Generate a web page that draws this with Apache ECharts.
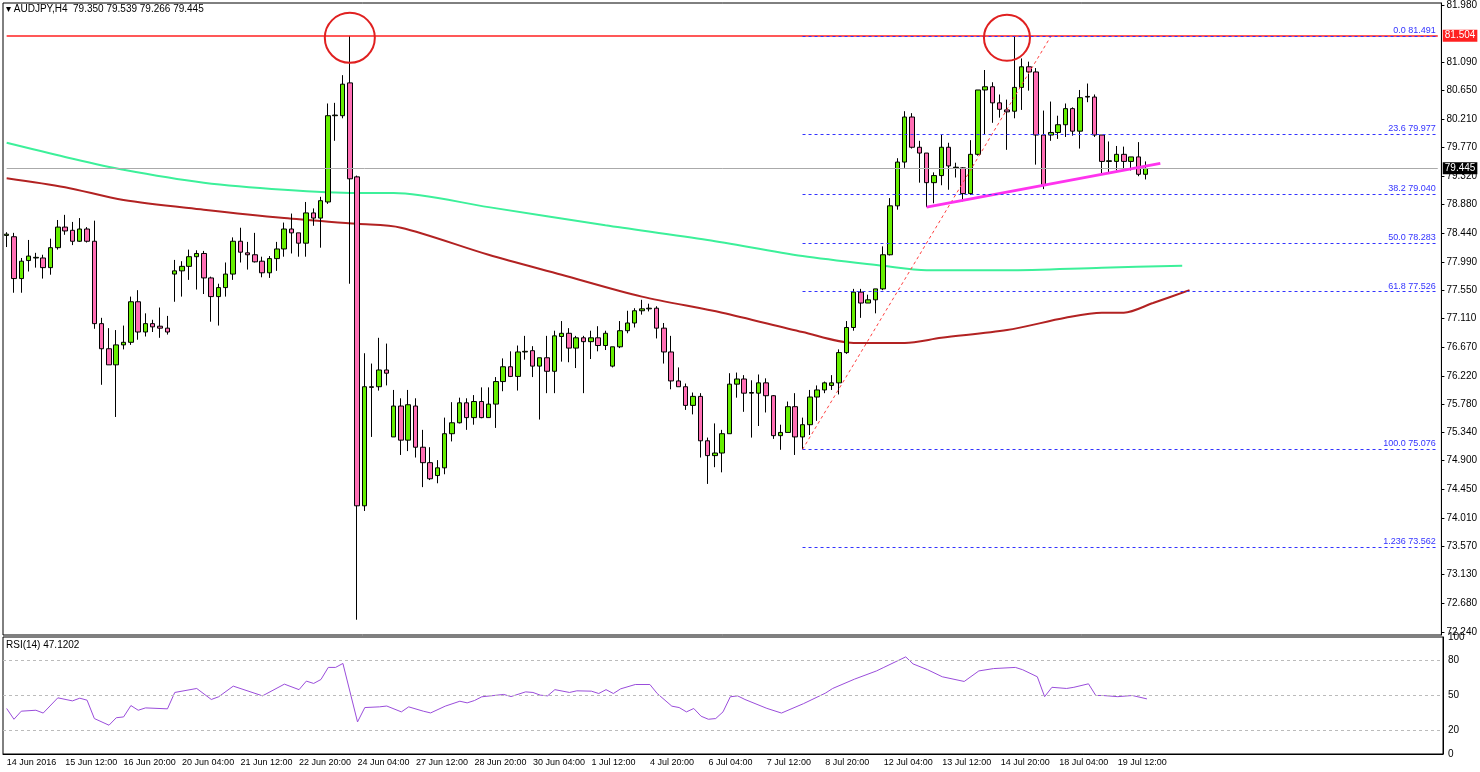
<!DOCTYPE html>
<html>
<head>
<meta charset="utf-8">
<script src="https://cdn.jsdelivr.net/npm/echarts@6/dist/echarts.min.js"></script>
<style>
  html, body { margin: 0; padding: 0; background: #fff; }
  #chart { width: 1480px; height: 772px; }
</style>
</head>
<body>
<div id="chart"></div>
<script>
// AUDJPY H4 candles, [open, close, low, high]
var candles = [
  [78.40,78.42,78.22,78.45],[78.38,77.73,77.51,78.44],[77.73,78.00,77.51,78.05],[78.01,78.08,77.84,78.33],
  [78.05,78.06,77.90,78.13],[78.05,77.90,77.73,78.10],[77.90,78.21,77.79,78.35],[78.21,78.53,78.18,78.64],
  [78.53,78.47,78.41,78.72],[78.48,78.31,78.25,78.61],[78.31,78.50,78.30,78.67],[78.50,78.31,78.29,78.53],
  [78.31,77.03,76.95,78.63],[77.03,76.64,76.08,77.12],[76.64,76.39,76.39,76.96],[76.39,76.70,75.58,76.93],
  [76.70,76.74,76.63,77.00],[76.74,77.37,76.70,77.45],[77.37,76.90,76.78,77.55],[76.90,77.03,76.83,77.19],
  [77.03,76.98,76.90,77.09],[76.99,76.96,76.81,77.28],[76.96,76.90,76.86,77.15],[77.80,77.85,77.37,78.02],
  [77.85,77.92,77.45,78.00],[77.92,78.07,77.71,78.18],[78.07,78.12,77.56,78.17],[78.12,77.74,77.49,78.16],
  [77.74,77.45,77.06,77.76],[77.45,77.59,77.00,77.65],[77.59,77.80,77.45,77.98],[77.80,78.31,77.71,78.37],
  [78.31,78.14,77.98,78.52],[78.13,78.10,77.87,78.30],[78.10,77.99,77.98,78.44],[78.00,77.82,77.75,78.07],
  [77.82,78.04,77.74,78.08],[78.04,78.19,77.85,78.30],[78.19,78.50,78.07,78.60],[78.50,78.44,78.12,78.74],
  [78.44,78.28,78.07,78.44],[78.28,78.75,78.07,78.92],[78.75,78.67,78.55,78.82],[78.67,78.94,78.21,79.00],
  [78.92,80.26,78.89,80.45],[80.26,80.27,79.87,80.46],[80.26,80.75,80.22,80.89],[80.77,79.28,77.65,81.50],
  [79.31,74.20,72.43,79.33],[74.20,76.05,74.12,76.57],[76.04,76.05,75.27,76.41],[76.05,76.31,75.99,76.81],
  [76.31,76.26,76.07,76.72],[75.27,75.75,75.27,76.00],[75.75,75.22,74.99,75.87],[75.22,75.77,75.05,76.00],
  [75.75,75.11,74.95,75.87],[75.11,74.87,74.49,75.38],[74.87,74.62,74.60,75.11],[74.67,74.79,74.55,74.91],
  [74.79,75.32,74.69,75.57],[75.32,75.49,75.20,75.81],[75.49,75.80,75.48,75.88],[75.80,75.57,75.38,75.87],
  [75.57,75.82,75.46,75.92],[75.82,75.57,75.56,76.04],[75.57,75.78,75.57,76.04],[75.78,76.13,75.41,76.20],
  [76.13,76.36,75.98,76.49],[76.36,76.21,76.20,76.60],[76.21,76.59,75.99,76.69],[76.59,76.60,76.47,76.84],
  [76.61,76.37,76.20,76.68],[76.37,76.50,75.54,76.50],[76.50,76.29,75.95,76.84],[76.29,76.84,75.95,76.92],
  [76.83,76.88,76.44,77.07],[76.88,76.65,76.43,76.96],[76.65,76.81,76.34,76.84],[76.81,76.75,75.95,76.84],
  [76.75,76.81,76.48,76.92],[76.81,76.69,76.60,76.99],[76.69,76.88,76.62,76.92],[76.37,76.67,76.35,76.67],
  [76.67,76.92,76.65,77.07],[76.92,77.04,76.88,77.23],[77.04,77.23,76.97,77.27],[77.23,77.26,77.17,77.40],
  [77.26,77.27,77.22,77.34],[77.27,76.96,76.80,77.30],[76.96,76.59,76.41,77.04],[76.59,76.14,76.01,76.84],
  [76.14,76.05,76.05,76.35],[76.05,75.76,75.69,76.10],[75.76,75.90,75.62,75.96],[75.90,75.21,74.95,75.95],
  [75.21,74.98,74.54,75.26],[74.98,75.02,74.80,75.48],[75.02,75.32,74.72,75.38],[75.32,76.09,75.32,76.26],
  [76.09,76.17,75.88,76.27],[76.17,75.95,75.66,76.23],[75.95,75.96,75.26,76.15],[75.95,76.11,75.44,76.24],
  [76.11,75.91,75.65,76.18],[75.91,75.29,75.24,75.92],[75.29,75.34,75.07,75.46],[75.34,75.74,75.34,75.82],
  [75.74,75.27,74.99,75.95],[75.27,75.46,75.08,75.57],[75.46,75.89,75.30,76.00],[75.89,76.00,75.52,76.07],
  [76.00,76.11,75.95,76.13],[76.07,76.11,76.00,76.23],[76.11,76.58,75.93,76.63],[76.58,76.97,76.56,77.07],
  [76.97,77.52,76.92,77.57],[77.52,77.35,77.12,77.57],[77.35,77.40,77.35,77.48],[77.40,77.57,77.19,77.57],
  [77.57,78.10,77.55,78.23],[78.10,78.86,78.09,78.98],[78.86,79.54,78.80,79.60],[79.54,80.24,79.45,80.33],
  [80.24,79.77,79.75,80.30],[79.77,79.68,79.22,79.87],[79.68,79.22,78.84,79.68],[79.22,79.33,78.90,79.38],
  [79.33,79.77,79.18,79.97],[79.77,79.48,79.11,79.84],[79.45,79.46,79.30,79.53],[79.45,79.05,78.93,79.46],
  [79.05,79.66,79.03,79.88],[79.66,80.66,79.64,80.66],[80.66,80.71,79.97,80.97],[80.71,80.46,80.15,80.78],
  [80.46,80.36,80.23,80.59],[80.35,80.32,79.73,80.51],[80.33,80.70,80.22,81.49],[80.70,81.02,80.35,81.15],
  [81.02,80.94,80.65,81.10],[80.94,79.96,79.50,81.00],[79.96,79.19,79.12,80.34],[79.96,80.00,79.87,80.48],
  [80.00,80.12,79.90,80.26],[80.12,80.37,79.93,80.45],[80.37,80.02,79.95,80.39],[80.02,80.54,79.75,80.66],
  [80.55,80.56,80.47,80.76],[80.55,79.96,79.93,80.59],[79.96,79.55,79.37,79.96],[79.55,79.56,79.37,79.86],
  [79.55,79.66,79.41,79.79],[79.66,79.55,79.41,79.78],[79.55,79.62,79.41,79.62],[79.62,79.35,79.32,79.85],
  [79.35,79.44,79.27,79.55]
];

// moving averages, [bar index, price]
var maGreen = [[0,79.84],[8,79.62],[16,79.42],[27,79.22],[38,79.11],[48,79.06],[53,79.06],[66,78.84],
  [82,78.56],[96,78.33],[109,78.08],[120,77.93],[126,77.86],[137,77.86],[150,77.90],[161,77.93]];
var maRed = [[0,79.29],[8,79.15],[16,78.95],[27,78.80],[38,78.67],[48,78.58],[54,78.52],
  [66,78.10],[76,77.79],[87,77.45],[98,77.20],[109,76.90],[116,76.73],[123,76.73],[128,76.81],
  [137,76.93],[145,77.12],[150,77.20],[153,77.20],[157,77.35],[162,77.55]];

// RSI(14), [bar index, value]
var rsi = [[0,38.9],[1,29.7],[2,36.6],[4,37.4],[5,35],[7,48],[9,45.4],[10,47.7],[11,46],[12,30.3],
  [14,24.6],[15,31],[16,31.7],[17,41.4],[18,37.4],[19,39.4],[22,38.6],[23,52.6],[26,56],[28,46.6],
  [29,48.9],[31,58],[35,49.7],[38,59.7],[40,55],[41,62.3],[42,60.3],[43,63.7],[44,74],[45,74],[46,77.4],
  [48,27.4],[49,39.7],[51,40.3],[52,41],[54,36],[55,40.3],[57,36.6],[58,35.1],[60,40.9],[62,45.1],
  [63,43.7],[64,45.7],[65,48.9],[68,50.9],[69,49.1],[71,53.1],[72,52.6],[73,50.3],[74,49.7],[75,55],
  [77,52.6],[78,54],[80,53.7],[81,51.7],[82,55],[83,51.7],[84,55.7],[86,59.4],[88,59.4],[89,51.7],
  [91,40.9],[92,39.7],[93,36],[94,38.9],[95,32.3],[96,29.7],[97,30.3],[98,36],[99,48.9],[100,49.7],
  [101,46.6],[104,39],[106,35],[109,43],[112,52],[113,56],[116,64],[119,71],[120,74],[122,80],[123,83],
  [124,77],[126,72],[128,66],[131,62],[133,71],[135,73],[138,74],[139,72],[141,66],[142,49],[143,57],
  [145,56],[146,57],[148,60],[149,50],[150,50],[152,49],[154,50],[156,47.1]];

// fibonacci levels drawn from the 7 Jul low
var fibNames = ['0.0', '23.6', '38.2', '50.0', '61.8', '100.0', '1.236'];
var fibValues = [81.491, 79.977, 79.040, 78.283, 77.526, 75.076, 73.562];

var priceTicks = [72.240, 72.680, 73.130, 73.570, 74.010, 74.450, 74.900, 75.340, 75.780, 76.220, 76.670,
  77.110, 77.550, 77.990, 78.440, 78.880, 79.320, 79.770, 80.210, 80.650, 81.090, 81.980];
var timeLabels = ['14 Jun 2016', '15 Jun 12:00', '16 Jun 20:00', '20 Jun 04:00', '21 Jun 12:00',
  '22 Jun 20:00', '24 Jun 04:00', '27 Jun 12:00', '28 Jun 20:00', '30 Jun 04:00', '1 Jul 12:00',
  '4 Jul 20:00', '6 Jul 04:00', '7 Jul 12:00', '8 Jul 20:00', '12 Jul 04:00', '13 Jul 12:00',
  '14 Jul 20:00', '18 Jul 04:00', '19 Jul 12:00'];

var resistance = 81.504;
var lastPrice = 79.445;

// one slot per H4 bar, labels every 8 bars, empty slots on the right
var slots = 197;
var categories = [];
for (var i = 0; i < slots; i++) {
  categories.push(i % 8 === 0 && timeLabels[i / 8] ? timeLabels[i / 8] : '');
}
var lastSlot = slots - 1;

var font = 'Liberation Sans';
var fibLines = fibValues.map(function (v, k) {
  return [
    { coord: [109, v],
      lineStyle: { color: '#3333ff', width: 1, type: [3, 3] },
      label: { show: true, position: 'insideEndTop', color: '#3333ff', fontSize: 9, distance: [2, 1],
        formatter: fibNames[k] + ' ' + v.toFixed(3) } },
    { coord: [lastSlot, v] }
  ];
});

var chart = echarts.init(document.getElementById('chart'));
chart.setOption({
  animation: false,
  backgroundColor: '#fff',
  textStyle: { fontFamily: font },
  graphic: [
    { type: 'text', left: 6, top: 4, style: { text: '▾ AUDJPY,H4  79.350 79.539 79.266 79.445', font: '10px ' + font, fill: '#000' } },
    { type: 'text', left: 6, top: 640, style: { text: 'RSI(14) 47.1202', font: '10px ' + font, fill: '#000' } }
  ],
  grid: [
    { left: 3, right: 37, top: 3, bottom: 137, show: true, borderColor: '#000', borderWidth: 1 },
    { left: 3, right: 37, top: 637, height: 117, show: true, borderColor: '#000', borderWidth: 1 }
  ],
  xAxis: [
    { type: 'category', gridIndex: 0, data: categories, boundaryGap: true,
      axisLine: { show: false }, axisTick: { show: false }, axisLabel: { show: false } },
    { type: 'category', gridIndex: 1, data: categories, boundaryGap: true,
      axisLine: { lineStyle: { color: '#000' } },
      axisTick: { interval: function (i, v) { return v !== ''; }, alignWithLabel: true, length: 4, lineStyle: { color: '#000' } },
      axisLabel: { interval: function (i, v) { return v !== ''; }, align: 'left', color: '#000', fontSize: 9, margin: 4 } }
  ],
  yAxis: [
    { type: 'value', gridIndex: 0, position: 'right', min: 72.193, max: 82.011,
      splitLine: { show: false },
      axisLine: { show: true, lineStyle: { color: '#000' } },
      axisTick: { show: true, customValues: priceTicks, length: 3, lineStyle: { color: '#000' } },
      axisLabel: { customValues: priceTicks, color: '#000', fontSize: 10, margin: 5,
        formatter: function (v) { return v.toFixed(3); } } },
    { type: 'value', gridIndex: 1, position: 'right', min: 0, max: 100,
      splitLine: { show: false },
      axisLine: { show: true, lineStyle: { color: '#000' } },
      axisTick: { show: false },
      axisLabel: { customValues: [0, 20, 50, 80, 100], color: '#000', fontSize: 10, margin: 5, showMinLabel: true } }
  ],
  series: [
    { type: 'line', xAxisIndex: 0, yAxisIndex: 0, data: maGreen, symbol: 'none', smooth: 0.3,
      lineStyle: { color: '#3cf09a', width: 2 }, z: 1 },
    { type: 'line', xAxisIndex: 0, yAxisIndex: 0, data: maRed, symbol: 'none', smooth: 0.3,
      lineStyle: { color: '#b22222', width: 2 }, z: 1 },
    { type: 'candlestick', xAxisIndex: 0, yAxisIndex: 0, data: candles, barWidth: 5, z: 3,
      itemStyle: { color: '#66ee00', color0: '#ff6eb4', borderColor: '#000', borderColor0: '#000', borderWidth: 1 },
      markLine: {
        silent: true, symbol: 'none', animation: false,
        data: [
          [ { coord: [0, resistance], lineStyle: { color: '#ff2020', width: 1.5, type: 'solid' },
              label: { show: true, position: 'end', formatter: '81.504', color: '#fff', backgroundColor: '#ff2020', padding: [1, 2], fontSize: 10 } },
            { coord: [lastSlot, resistance] } ],
          [ { coord: [0, lastPrice], lineStyle: { color: '#aaaaaa', width: 1, type: 'solid' },
              label: { show: true, position: 'end', formatter: '79.445', color: '#fff', backgroundColor: '#000', padding: [1, 2], fontSize: 10 } },
            { coord: [lastSlot, lastPrice] } ],
          [ { coord: [109, fibValues[5]], lineStyle: { color: '#ff4040', width: 1, type: [3, 3] }, label: { show: false } },
            { coord: [143, fibValues[0]] } ],
          [ { coord: [126, 78.84], lineStyle: { color: '#ff33ee', width: 3, type: 'solid' }, label: { show: false } },
            { coord: [158, 79.52] } ]
        ].concat(fibLines)
      },
      markPoint: {
        silent: true, animation: false, symbol: 'circle', label: { show: false },
        itemStyle: { color: 'rgba(0,0,0,0)', borderColor: '#e02020', borderWidth: 2 },
        data: [ { coord: [47, 81.47], symbolSize: 50 }, { coord: [137, 81.47], symbolSize: 46 } ]
      }
    },
    { type: 'line', xAxisIndex: 1, yAxisIndex: 1, data: rsi, symbol: 'none',
      lineStyle: { color: '#9a4ddb', width: 1 },
      markLine: { silent: true, symbol: 'none', label: { show: false },
        lineStyle: { color: '#bbbbbb', type: [3, 3], width: 1 },
        data: [ { yAxis: 80 }, { yAxis: 50 }, { yAxis: 20 } ] } }
  ]
});
</script>
</body>
</html>
